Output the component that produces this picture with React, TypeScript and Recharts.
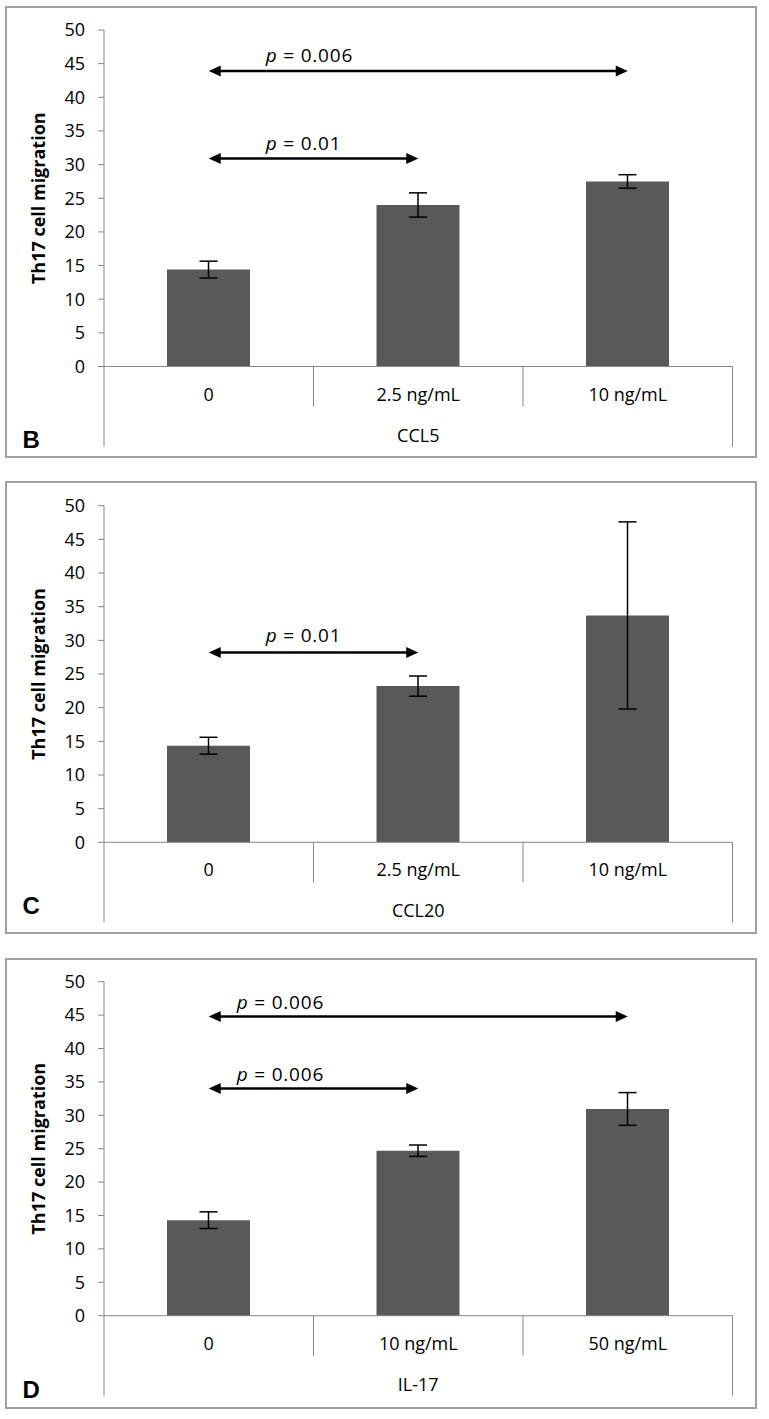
import React from 'react';
import { BarChart, Bar, XAxis, YAxis, ErrorBar, ReferenceLine } from 'recharts';

// ---------- data ----------
const yTicks = [0, 5, 10, 15, 20, 25, 30, 35, 40, 45, 50];

const ccl5Doses = ['0', '2.5 ng/mL', '10 ng/mL'];
const ccl5Means = [14.4, 24.0, 27.5];
const ccl5Errors = [1.25, 1.8, 1.0];
const ccl5Sig = [
  { from: '0', to: '10 ng/mL', y: 43.9, p: '0.006' },
  { from: '0', to: '2.5 ng/mL', y: 30.9, p: '0.01' },
];

const ccl20Doses = ['0', '2.5 ng/mL', '10 ng/mL'];
const ccl20Means = [14.35, 23.2, 33.7];
const ccl20Errors = [1.25, 1.5, 13.9];
const ccl20Sig = [{ from: '0', to: '2.5 ng/mL', y: 28.2, p: '0.01' }];

const il17Doses = ['0', '10 ng/mL', '50 ng/mL'];
const il17Means = [14.3, 24.7, 30.95];
const il17Errors = [1.25, 0.85, 2.45];
const il17Sig = [
  { from: '0', to: '50 ng/mL', y: 44.8, p: '0.006' },
  { from: '0', to: '10 ng/mL', y: 34.0, p: '0.006' },
];

const yTitle = 'Th17 cell migration';

// ---------- styles ----------
const FONT = 'Open Sans';
const AXIS_GREY = '#868686';
const BAR_FILL = '#595959';

type Sig = { from: string; to: string; y: number; p: string };

type PanelProps = {
  doses: string[];
  means: number[];
  errors: number[];
  sig: Sig[];
  group: string;
  letter: string;
  top: number;
  height: number;
  plotTop: number;
  plotBottom: number;
  letterDy: number;
  pDx: number;
  pDy: number;
};

function Panel(props: PanelProps) {
  const { doses, means, errors, sig, group, letter, top, height, plotTop, plotBottom, letterDy, pDx, pDy } = props;
  const n = doses.length;
  const data = doses.map((d, i) => ({ pos: i + 0.5, dose: d, mean: means[i], err: errors[i] }));
  const posOf = (d: string) => doses.indexOf(d) + 0.5;
  const W = 750;
  const axisH = height - plotBottom;
  // boundaries (integers) and category centres (halves)
  const xTicks: number[] = [];
  for (let i = 0; i <= n; i++) {
    xTicks.push(i);
    if (i < n) xTicks.push(i + 0.5);
  }

  const xTick = (p: any) => {
    const v = p.payload.value;
    if (Number.isInteger(v)) {
      const outer = v === 0 || v === n;
      return (
        <line x1={p.x} y1={p.y} x2={p.x} y2={p.y + (outer ? 80 : 40)} stroke={AXIS_GREY} strokeWidth={1} />
      );
    }
    const idx = Math.floor(v);
    return (
      <text x={p.x} y={p.y + 34} textAnchor="middle" fontFamily={FONT} fontSize={18} fill="#000">
        {doses[idx]}
      </text>
    );
  };

  const groupLabel = (p: any) => {
    const vb = p.viewBox || {};
    const cx = vb.x + vb.width / 2;
    return (
      <g>
        <text x={cx} y={vb.y + 75} textAnchor="middle" fontFamily={FONT} fontSize={18} fill="#000">
          {group}
        </text>
        <text x={16.5} y={vb.y + letterDy} fontFamily="Liberation Sans" fontWeight="bold" fontSize={24} fill="#000">
          {letter}
        </text>
      </g>
    );
  };

  const yLabel = (p: any) => {
    const vb = p.viewBox || {};
    const cy = vb.y + vb.height / 2;
    const x = 39;
    return (
      <text
        x={x}
        y={cy}
        transform={`rotate(-90, ${x}, ${cy})`}
        textAnchor="middle"
        fontFamily={FONT}
        fontWeight="bold"
        fontSize={18}
        fill="#000"
      >
        {yTitle}
      </text>
    );
  };

  const arrowShape = (text: string) => (p: any) => {
    const { x1, y1, x2 } = p;
    const y = y1;
    const head = 12;
    const hh = 5.5;
    return (
      <g>
        <line x1={x1 + head - 1} y1={y} x2={x2 - head + 1} y2={y} stroke="#000" strokeWidth={2.5} />
        <polygon points={`${x1},${y} ${x1 + head},${y - hh} ${x1 + head},${y + hh}`} fill="#000" />
        <polygon points={`${x2},${y} ${x2 - head},${y - hh} ${x2 - head},${y + hh}`} fill="#000" />
        <text x={x1 + pDx} y={y - pDy} fontFamily={FONT} fontSize={19} letterSpacing={0.8} fill="#000">
          <tspan fontStyle="italic">p</tspan>
          {` = ${text}`}
        </text>
      </g>
    );
  };

  return (
    <div style={{ position: 'absolute', left: 6, top, width: W, height }}>
      <BarChart
        width={W}
        height={height}
        data={data}
        margin={{ top: plotTop, right: 23.5, left: 0, bottom: 0 }}
      >
        <XAxis
          dataKey="pos"
          type="number"
          domain={[0, n]}
          ticks={xTicks}
          interval={0}
          height={axisH}
          axisLine={{ stroke: AXIS_GREY }}
          tickLine={false}
          tickSize={0}
          tickMargin={0}
          tick={xTick}
          label={{ content: groupLabel }}
        />
        <YAxis
          domain={[0, 50]}
          ticks={yTicks}
          interval={0}
          width={98}
          tickSize={6}
          tickMargin={13}
          axisLine={{ stroke: AXIS_GREY }}
          tickLine={{ stroke: AXIS_GREY }}
          tick={{ fill: '#000', fontSize: 18, fontFamily: FONT }}
          label={{ content: yLabel }}
        />
        <Bar dataKey="mean" fill={BAR_FILL} barSize={83} isAnimationActive={false}>
          <ErrorBar dataKey="err" width={9} strokeWidth={1.5} stroke="#000" />
        </Bar>
        {sig.map((s, i) => (
          <ReferenceLine
            key={i}
            segment={[
              { x: posOf(s.from), y: s.y },
              { x: posOf(s.to), y: s.y },
            ]}
            ifOverflow="visible"
            shape={arrowShape(s.p)}
          />
        ))}
      </BarChart>
    </div>
  );
}

function Frame({ top, height }: { top: number; height: number }) {
  return (
    <div
      style={{
        position: 'absolute',
        left: 5,
        top,
        width: 752,
        height,
        border: '2px solid #a0a0a0',
        boxSizing: 'border-box',
      }}
    />
  );
}

export default function App() {
  return (
    <div style={{ position: 'relative', width: 769, height: 1419 }}>
      <style>{`body{margin:0;background:#fff}`}</style>
      <Frame top={6} height={452} />
      <Frame top={481} height={453} />
      <Frame top={958} height={451} />
      <Panel
        doses={ccl5Doses}
        means={ccl5Means}
        errors={ccl5Errors}
        sig={ccl5Sig}
        group="CCL5"
        letter="B"
        top={7}
        height={450}
        plotTop={23}
        plotBottom={359.5}
        letterDy={81}
        pDx={57}
        pDy={9}
      />
      <Panel
        doses={ccl20Doses}
        means={ccl20Means}
        errors={ccl20Errors}
        sig={ccl20Sig}
        group="CCL20"
        letter="C"
        top={482}
        height={451}
        plotTop={23.7}
        plotBottom={360.3}
        letterDy={72}
        pDx={57}
        pDy={10}
      />
      <Panel
        doses={il17Doses}
        means={il17Means}
        errors={il17Errors}
        sig={il17Sig}
        group="IL-17"
        letter="D"
        top={959}
        height={448}
        plotTop={22.7}
        plotBottom={356.7}
        letterDy={82}
        pDx={28}
        pDy={7.5}
      />
    </div>
  );
}
